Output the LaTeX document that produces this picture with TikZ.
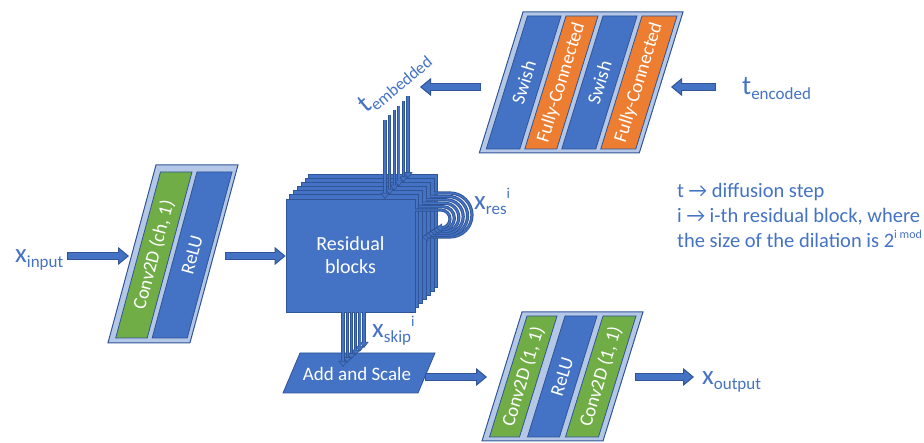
\documentclass[tikz,border=0pt]{standalone}
\usepackage{fontspec}
\setmainfont{Carlito}
\usetikzlibrary{arrows.meta}
\definecolor{dblue}{HTML}{2F5597}
\definecolor{mblue}{HTML}{4472C4}
\definecolor{lblue}{HTML}{B4C7E7}
\definecolor{cgreen}{HTML}{70AD47}
\definecolor{corange}{HTML}{ED7D31}
\newcommand{\fs}[1]{\fontsize{#1}{#1}\selectfont}
\newcommand{\lab}[3]{{\fs{27}#1}\raisebox{-5pt}{\fs{17}#2}\ifx\relax#3\relax\else\raisebox{11pt}{\fs{15}#3}\fi}
\newcommand{\outerbox}[5]{%
  \draw[obox] (#1,#3) -- (#2,#3) -- ({#2-#5*(#4-#3)},#4) -- ({#1-#5*(#4-#3)},#4) -- cycle;}
\newcommand{\layerstrip}[8]{%
  \draw[stripline, fill=#7] (#2,#4) -- (#3,#4) -- ({#3-#6*(#5-#4)},#5) -- ({#2-#6*(#5-#4)},#5) -- cycle;
  \pgfmathsetmacro{\stripang}{atan(1/#6)}
  \node[striptext, rotate=\stripang] (#1) at ({(#2+#3)/2-#6*(#5-#4)/2},{(#4+#5)/2}) {#8};}
\newcommand{\bigarr}[2]{\draw[bigdark] (#1) -- (#2); \draw[biglight] (#1) -- (#2);}
\tikzset{
  obox/.style={draw=dblue, fill=lblue, line width=1pt, line join=miter},
  stripline/.style={draw=dblue, line width=0.8pt},
  striptext/.style={text=white, font=\fs{19}, inner sep=0pt},
  lab/.style={text=mblue, inner sep=0pt},
  layer/.style={draw=dblue, fill=mblue, line width=0.8pt},
  bigdark/.style={draw=dblue, line width=8pt, -{Triangle[width=18pt,length=11pt,fill=mblue,line width=1pt]}},
  biglight/.style={draw=mblue, line width=6pt, shorten >=10pt, shorten <=1pt},
  thindark/.style={draw=dblue, line width=3.2pt, -{Triangle[width=9pt,length=6pt,fill=mblue,line width=0.7pt]}},
  thinlight/.style={draw=mblue, line width=1.4pt, shorten >=6pt}
}
\begin{document}
\begin{tikzpicture}[x=1pt,y=-1pt]
\useasboundingbox (0,0) rectangle (924,443);
% ---------- left block ----------
\outerbox{156}{238}{165}{343}{0.27}
\layerstrip{lb1}{160.5}{192}{172}{338}{0.27}{cgreen}{Conv2D (ch, 1)}
\layerstrip{lb2}{197}{232}{172}{338}{0.27}{mblue}{ReLU}
% ---------- top block ----------
\outerbox{523}{683}{12}{153}{0.31}
\layerstrip{tb1}{527.5}{561}{16}{149}{0.31}{mblue}{Swish}
\layerstrip{tb2}{566}{598}{16}{149}{0.31}{corange}{Fully-Connected}
\layerstrip{tb3}{603}{637}{16}{149}{0.31}{mblue}{Swish}
\layerstrip{tb4}{642}{677}{16}{149}{0.31}{corange}{Fully-Connected}
% ---------- bottom right block ----------
\outerbox{522}{643}{312}{441}{0.31}
\layerstrip{rb1}{527}{557}{316}{437}{0.31}{cgreen}{Conv2D (1, 1)}
\layerstrip{rb2}{565}{597}{316}{437}{0.31}{mblue}{ReLU}
\layerstrip{rb3}{603}{636}{316}{437}{0.31}{cgreen}{Conv2D (1, 1)}
% ---------- residual stack ----------
\foreach \k in {6,5,...,1}
  \draw[layer] ({286+3.8*\k},{199-4.15*\k}) rectangle ++(129,113);
\node[layer, minimum width=129pt, minimum height=113pt, inner sep=0pt, text=white,
      align=center, font={\fontsize{20}{23}\selectfont}] (res) at (350.5,255.5) {Residual\\blocks};
% t_embedded arrows
\foreach \k in {5,4,...,0}{
  \coordinate (ea\k) at ({385+4.6*\k},{120-4.8*\k});
  \coordinate (eb\k) at ({385+4.6*\k},{199-4.15*\k});
  \draw[thindark] (ea\k) -- (eb\k);
  \draw[thinlight] (ea\k) -- (eb\k);
}
% residual loops
\foreach \k in {5,4,...,0}{
  \pgfmathsetmacro{\lty}{210-3.4*\k}
  \pgfmathsetmacro{\lrr}{9+2.6*\k}
  \pgfmathsetmacro{\lcx}{441+1.8*\k}
  \pgfmathsetmacro{\lsx}{415+3.8*\k}
  \pgfmathsetmacro{\ltx}{436-2.8*\k}
  \pgfmathsetmacro{\lby}{\lty+2*\lrr}
  \coordinate (ls\k) at (\lsx,\lty);
  \coordinate (le\k) at (\ltx,\lby);
  \draw[thindark] (ls\k) -- (\lcx,\lty) arc[start angle=-90,end angle=90,radius=\lrr] -- (le\k);
  \draw[thinlight] (ls\k) -- (\lcx,\lty) arc[start angle=-90,end angle=90,radius=\lrr] -- (le\k);
}
% ---------- add and scale ----------
\draw[layer] (300,353) -- (435,353) -- (418,393) -- (283,393) -- cycle;
\node[text=white, inner sep=0pt, font=\fs{19}] (as) at (357,374) {Add and Scale};
% skip arrows
\foreach \k in {5,4,...,0}{
  \coordinate (sa\k) at ({343+4.2*\k},312);
  \coordinate (sb\k) at ({343+4.2*\k},{367-3.8*\k});
  \draw[thindark] (sa\k) -- (sb\k);
  \draw[thinlight] (sa\k) -- (sb\k);
}
% ---------- labels ----------
\node[lab, anchor=base west] (xin) at (15,263) {\lab{x}{input}{}};
\node[lab, anchor=base west] (tenc) at (742,95) {\lab{t}{encoded}{}};
\node[lab, anchor=base west] (xout) at (702,385) {\lab{x}{output}{}};
\node[lab, anchor=base west] (xres) at (474,210) {\lab{x}{res}{i}};
\node[lab, anchor=base west] (xskip) at (372,338) {\lab{x}{skip}{i}};
\node[lab, anchor=base west, rotate=40] (temb) at (366,114) {\lab{t}{embedded}{}};
\node[lab, anchor=base west, font=\fs{20.5}] (leg1) at (677,198) {t → diffusion step};
\node[lab, anchor=base west, font=\fs{20.5}] (leg2) at (677,223) {i → i-th residual block, where};
\node[lab, anchor=base west, font=\fs{20.5}] (leg3) at (677,248) {the size of the dilation is 2\raisebox{9pt}{\fs{12}i mod}};
% ---------- big arrows ----------
\coordinate (lbW) at (129,256);
\coordinate (lbE) at (225,256);
\coordinate (tbE) at (671,87);
\coordinate (tbW) at (481,87);
\coordinate (tembA) at (420,87);
\coordinate (asE) at (425,377);
\coordinate (rbW) at (487,377);
\coordinate (rbE) at (635,377);
\bigarr{[xshift=4pt]xin.east |- lbW}{lbW}
\bigarr{lbE}{res.west |- lbE}
\bigarr{[xshift=-26pt]tenc.west |- tbE}{tbE}
\bigarr{tbW}{tembA}
\bigarr{asE}{rbW}
\bigarr{rbE}{[xshift=-8pt]xout.west |- rbE}
\end{tikzpicture}
\end{document}
